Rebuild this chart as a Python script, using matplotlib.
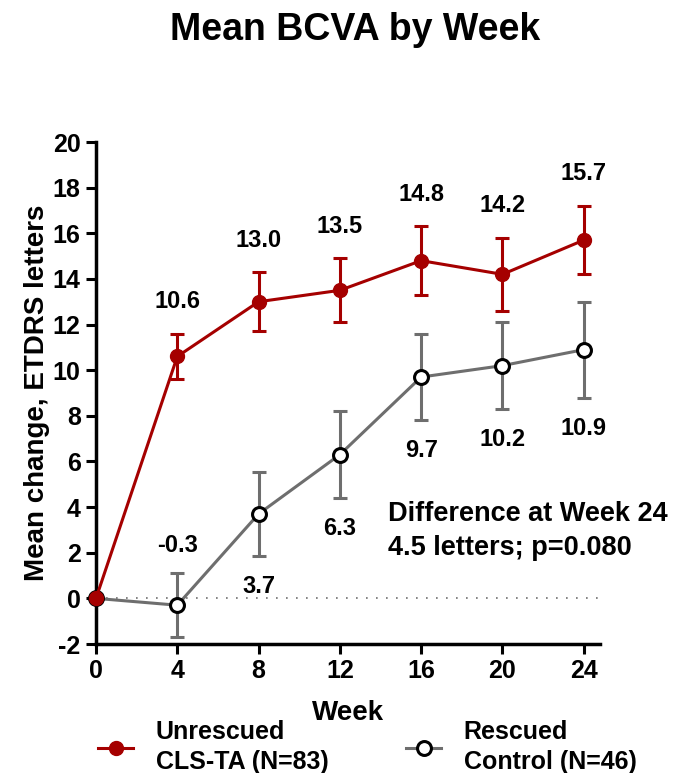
import numpy as np
import matplotlib.pyplot as plt

plt.rcParams['font.family'] = ['Liberation Sans', 'DejaVu Sans']
plt.rcParams['font.weight'] = 'bold'
plt.rcParams['axes.unicode_minus'] = False

weeks = [0, 4, 8, 12, 16, 20, 24]

# Unrescued CLS-TA
cls_mean = [0.0, 10.6, 13.0, 13.5, 14.8, 14.2, 15.7]
cls_err = [0.0, 1.0, 1.3, 1.4, 1.5, 1.6, 1.5]

# Rescued Control
ctl_mean = [0.0, -0.3, 3.7, 6.3, 9.7, 10.2, 10.9]
ctl_err = [0.0, 1.4, 1.85, 1.9, 1.9, 1.9, 2.1]
ctl_label_side = [None, 'above', 'below', 'below', 'below', 'below', 'below']

red = '#a50000'
grey = '#6e6e6e'

fig = plt.figure(figsize=(6.83, 7.73), dpi=100)
ax = fig.add_axes([96 / 683, 1 - 644 / 773, 504 / 683, 502 / 773])

ax.axhline(0, color=grey, lw=1.2, linestyle=(0, (1, 5)), zorder=1)

ax.errorbar(weeks, ctl_mean, yerr=ctl_err, color=grey, lw=2.2, capsize=5,
            capthick=2.2, elinewidth=2.2, marker='o', markersize=10,
            markerfacecolor='white', markeredgecolor='black', markeredgewidth=2.2,
            zorder=3, clip_on=False)
ax.errorbar(weeks, cls_mean, yerr=cls_err, color=red, lw=2.2, capsize=5,
            capthick=2.2, elinewidth=2.2, marker='o', markersize=10,
            markerfacecolor=red, markeredgecolor=red, zorder=4, clip_on=False)

for w, m, e in zip(weeks[1:], cls_mean[1:], cls_err[1:]):
    ax.annotate(f'{m:.1f}', (w, m + e), xytext=(0, 23), textcoords='offset points',
                ha='center', va='center', fontsize=17, fontweight='bold')

for w, m, e, side in zip(weeks[1:], ctl_mean[1:], ctl_err[1:], ctl_label_side[1:]):
    if side == 'above':
        ax.annotate(f'{m:.1f}', (w, m + e), xytext=(0, 20), textcoords='offset points',
                    ha='center', va='center', fontsize=17, fontweight='bold')
    else:
        ax.annotate(f'{m:.1f}', (w, m - e), xytext=(0, -22), textcoords='offset points',
                    ha='center', va='center', fontsize=17, fontweight='bold')

fig.text(388 / 683, 1 - 501 / 773, 'Difference at Week 24\n4.5 letters; p=0.080',
         fontsize=19.5, fontweight='bold', va='top', ha='left', linespacing=1.4)

ax.set_xlim(0, 24.8)
ax.set_ylim(-2, 20)
ax.set_xticks(weeks)
ax.set_yticks(np.arange(-2, 21, 2))
ax.tick_params(labelsize=18, width=2.2, length=7, direction='out', pad=4)
for lab in ax.get_xticklabels() + ax.get_yticklabels():
    lab.set_fontweight('bold')
for s in ['top', 'right']:
    ax.spines[s].set_visible(False)
for s in ['left', 'bottom']:
    ax.spines[s].set_linewidth(2.5)

ax.set_xlabel('Week', fontsize=20, fontweight='bold', labelpad=12)
ax.set_ylabel('Mean change, ETDRS letters', fontsize=20, fontweight='bold', labelpad=2)

fig.suptitle('Mean BCVA by Week', fontsize=27, fontweight='bold', x=0.52, y=0.985)

h1, = ax.plot([], [], color=red, lw=2.2, marker='o', markersize=10,
              markerfacecolor=red, markeredgecolor=red)
h2, = ax.plot([], [], color=grey, lw=2.2, marker='o', markersize=10,
              markerfacecolor='white', markeredgecolor='black', markeredgewidth=2.2)
leg = fig.legend([h1, h2], ['Unrescued\nCLS-TA (N=83)', 'Rescued\nControl (N=46)'],
                 loc='lower left', bbox_to_anchor=(0.111, -0.03), ncol=2, frameon=False,
                 fontsize=18, handlelength=1.4, columnspacing=3.1, handletextpad=0.9)
for t in leg.get_texts():
    t.set_linespacing(1.3)

fig.savefig('out.png', dpi=100)
